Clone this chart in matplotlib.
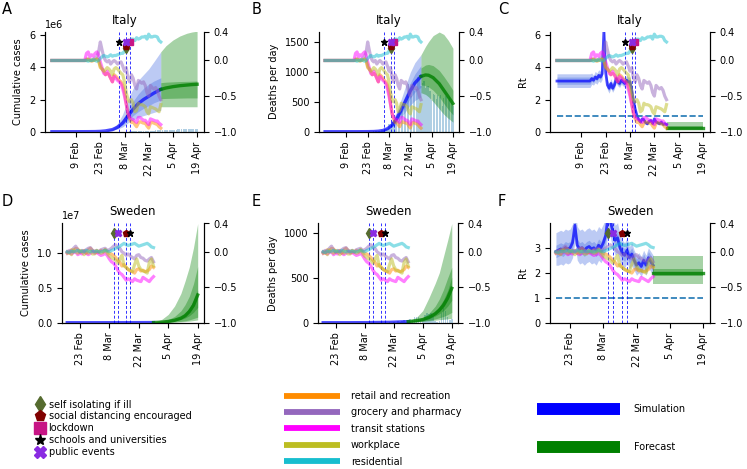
import matplotlib
matplotlib.use("Agg")
import matplotlib.pyplot as plt
from matplotlib.lines import Line2D
import numpy as np
import pandas as pd

plt.rcParams["font.family"] = "DejaVu Sans"
plt.rcParams["font.size"] = 7
plt.rcParams["axes.linewidth"] = 0.8


def days(start, n):
    return pd.date_range(start, periods=n, freq="D")


# ---------------- interventions ----------------
measure_names = ["self isolating if ill", "social distancing encouraged", "lockdown",
                 "schools and universities", "public events"]
measure_markers = ["d", "p", "s", "*", "X"]
measure_colors = ["#556b2f", "#800000", "#c71585", "black", "#8a2be2"]

it_measure_dates = ["2020-03-09", "2020-03-09", "2020-03-11", "2020-03-05", "2020-03-09"]
it_measure_level = [0.17, 0.21, 0.26, 0.26, 0.26]
it_vlines = ["2020-03-05", "2020-03-09", "2020-03-11"]

se_measure_dates = ["2020-03-10", "2020-03-16", None, "2020-03-18", "2020-03-12"]
se_measure_level = [0.26, 0.26, 0.26, 0.26, 0.26]
se_vlines = ["2020-03-10", "2020-03-12", "2020-03-16", "2020-03-18"]

# ---------------- mobility ----------------
mob_names = ["retail and recreation", "grocery and pharmacy", "transit stations",
             "workplace", "residential"]
mob_colors = ["darkorange", "tab:purple", "magenta", "tab:olive", "tab:cyan"]

# Italy: 26 Jan, 14 Feb, then daily from 15 Feb
it_retail = [0.0, 0.0, 0.02, 0.01, 0.0, -0.01, 0.0, 0.01, 0.02, 0.0, -0.1, -0.12, -0.15, -0.2, -0.18,
             -0.2, -0.25, -0.3, -0.2, -0.22, -0.25, -0.28, -0.3, -0.35, -0.45, -0.6, -0.75, -0.82,
             -0.87, -0.86, -0.9, -0.93, -0.88, -0.86, -0.87, -0.88, -0.88, -0.92, -0.95, -0.88,
             -0.87, -0.88, -0.89, -0.9, -0.93, -0.95]
it_grocery = [0.0, 0.0, 0.0, 0.02, 0.01, 0.0, 0.02, 0.03, 0.05, 0.12, 0.26, 0.15, 0.05, 0.0, -0.02,
              0.0, -0.05, -0.02, 0.0, -0.02, -0.05, -0.03, -0.02, -0.08, -0.15, -0.1, -0.25, -0.3,
              -0.2, -0.25, -0.35, -0.4, -0.28, -0.3, -0.32, -0.3, -0.35, -0.45, -0.5, -0.35, -0.38,
              -0.4, -0.38, -0.42, -0.5, -0.55]
it_transit = [0.0, 0.0, 0.1, 0.12, 0.05, 0.08, 0.06, 0.1, 0.12, 0.08, -0.02, -0.1, -0.18, -0.2,
              -0.15, -0.2, -0.25, -0.3, -0.22, -0.25, -0.28, -0.3, -0.33, -0.4, -0.5, -0.62, -0.74,
              -0.8, -0.82, -0.83, -0.85, -0.87, -0.8, -0.8, -0.82, -0.84, -0.84, -0.87, -0.9, -0.82,
              -0.83, -0.84, -0.85, -0.85, -0.88, -0.9]
it_work = [0.0, 0.0, 0.0, 0.02, 0.0, 0.01, 0.0, 0.01, 0.02, 0.0, -0.08, -0.12, -0.15, -0.13, -0.1,
           -0.12, -0.15, -0.2, -0.12, -0.1, -0.12, -0.15, -0.18, -0.2, -0.3, -0.45, -0.55, -0.58,
           -0.55, -0.6, -0.72, -0.7, -0.6, -0.62, -0.62, -0.63, -0.65, -0.72, -0.75, -0.65, -0.66,
           -0.67, -0.68, -0.7, -0.72, -0.62]
it_resid = [0.0, 0.0, 0.0, -0.01, 0.0, 0.0, 0.01, 0.0, -0.01, 0.0, 0.03, 0.05, 0.07, 0.06, 0.05,
            0.06, 0.08, 0.06, 0.07, 0.07, 0.08, 0.09, 0.1, 0.1, 0.13, 0.2, 0.25, 0.27, 0.3, 0.3,
            0.28, 0.32, 0.3, 0.31, 0.33, 0.33, 0.34, 0.3, 0.37, 0.33, 0.33, 0.34, 0.34, 0.33, 0.28,
            0.26]

# Sweden: daily from 17 Feb
se_retail = [0.0, -0.02, 0.03, 0.0, 0.05, 0.04, -0.01, 0.0, 0.02, -0.02, 0.03, 0.05, 0.02, 0.0,
             -0.01, 0.0, 0.02, 0.0, 0.03, 0.01, -0.02, -0.03, -0.05, -0.08, -0.12, -0.15, -0.2,
             -0.18, -0.22, -0.25, -0.27, -0.28, -0.3, -0.25, -0.24, -0.27, -0.26, -0.28, -0.27,
             -0.25, -0.2, -0.22]
se_grocery = [0.0, 0.02, 0.01, 0.05, 0.08, 0.03, 0.0, 0.02, 0.01, 0.03, 0.05, 0.06, 0.02, 0.01,
              0.02, 0.0, 0.03, 0.04, 0.05, 0.02, 0.03, 0.05, 0.08, 0.1, 0.06, 0.05, 0.0, -0.02,
              -0.05, -0.03, -0.06, -0.08, -0.1, -0.05, -0.04, -0.08, -0.09, -0.12, -0.13, -0.1,
              -0.08, -0.14]
se_transit = [-0.02, 0.0, -0.03, -0.01, 0.0, -0.04, -0.02, -0.03, 0.0, -0.02, -0.04, -0.02, 0.0,
              -0.02, -0.01, -0.03, -0.05, -0.04, -0.02, -0.05, -0.1, -0.14, -0.16, -0.2, -0.26,
              -0.3, -0.32, -0.36, -0.4, -0.38, -0.4, -0.42, -0.38, -0.4, -0.41, -0.42, -0.36,
              -0.38, -0.4, -0.42, -0.38, -0.35]
se_work = [-0.02, 0.0, -0.04, 0.03, 0.0, -0.02, 0.02, 0.0, -0.04, 0.0, -0.02, 0.01, -0.03, -0.03,
           0.02, 0.0, -0.02, -0.01, 0.03, -0.02, -0.06, -0.08, -0.1, -0.12, -0.16, -0.1, -0.05,
           -0.2, -0.22, -0.25, -0.26, -0.28, -0.18, -0.1, -0.2, -0.25, -0.27, -0.28, -0.3, -0.15,
           -0.1, -0.2]
se_resid = [0.0, -0.01, 0.01, 0.0, 0.01, 0.02, 0.0, 0.01, 0.0, 0.02, 0.01, 0.0, 0.01, 0.0, 0.01,
            0.0, 0.0, 0.01, 0.02, 0.01, 0.0, 0.02, 0.03, 0.05, 0.06, 0.08, 0.1, 0.12, 0.1, 0.09,
            0.1, 0.11, 0.12, 0.1, 0.08, 0.09, 0.1, 0.11, 0.12, 0.1, 0.07, 0.06]

# ---------------- Italy cases (millions) ----------------
it_sim_dates = ["2020-01-26", "2020-02-09", "2020-02-16", "2020-02-20", "2020-02-23", "2020-02-26",
                "2020-03-01", "2020-03-04", "2020-03-07", "2020-03-10", "2020-03-13", "2020-03-16",
                "2020-03-19", "2020-03-22", "2020-03-25", "2020-03-29"]
it_cases = [0, 0, 0.003, 0.008, 0.02, 0.05, 0.13, 0.28, 0.55, 0.98, 1.40, 1.75, 2.00, 2.20, 2.40, 2.63]
it_cases_lo1 = [0, 0, 0.003, 0.007, 0.017, 0.04, 0.10, 0.22, 0.42, 0.72, 1.00, 1.25, 1.45, 1.62, 1.80, 1.97]
it_cases_hi1 = [0, 0, 0.004, 0.01, 0.025, 0.06, 0.16, 0.36, 0.75, 1.35, 1.90, 2.35, 2.70, 2.95, 3.15, 3.35]
it_cases_lo2 = [0, 0, 0.002, 0.006, 0.014, 0.03, 0.08, 0.17, 0.30, 0.55, 0.75, 0.90, 1.00, 1.10, 1.20, 1.33]
it_cases_hi2 = [0, 0, 0.005, 0.012, 0.03, 0.08, 0.22, 0.50, 1.10, 2.00, 2.70, 3.20, 3.55, 3.90, 4.35, 4.97]

it_fc_dates = ["2020-03-29", "2020-04-01", "2020-04-05", "2020-04-09", "2020-04-13", "2020-04-16",
               "2020-04-19"]
it_fc_cases = [2.63, 2.72, 2.80, 2.86, 2.90, 2.93, 2.95]
it_fc_cases_lo1 = [2.05, 2.07, 2.08, 2.09, 2.10, 2.10, 2.10]
it_fc_cases_hi1 = [3.05, 3.08, 3.10, 3.12, 3.13, 3.14, 3.15]
it_fc_cases_lo2 = [1.55, 1.55, 1.55, 1.55, 1.55, 1.55, 1.55]
it_fc_cases_hi2 = [4.97, 5.35, 5.70, 5.95, 6.12, 6.20, 6.25]

# observed, daily from 21 Feb
it_obs_cum = [20, 62, 155, 229, 322, 453, 655, 888, 1128, 1694, 2036, 2502, 3089, 3858, 4636, 5883,
              7375, 9172, 10149, 12462, 15113, 17660, 21157, 24747, 27980, 31506, 35713, 41035,
              47021, 53578, 59138, 63927, 69176, 74386, 80589, 86498, 92472, 97689, 101739, 105792,
              110574, 115242, 119827, 124632, 128948, 132547, 135586, 139422, 143626, 147577,
              152271, 156363, 159516, 162488, 165155, 168941, 172434, 175925, 178972]
it_obs_deaths = [1, 1, 1, 4, 3, 2, 5, 4, 8, 5, 18, 27, 28, 41, 49, 36, 133, 97, 168, 196, 189, 250,
                 175, 368, 349, 345, 475, 427, 627, 793, 651, 601, 743, 683, 712, 919, 889, 756,
                 812, 837, 727, 760, 766, 681, 525, 636, 604, 542, 610, 570, 619, 431, 566, 602,
                 578, 525, 575, 482, 433]

# ---------------- Italy deaths per day ----------------
it_dsim_dates = ["2020-01-26", "2020-02-16", "2020-02-23", "2020-02-27", "2020-03-01", "2020-03-04",
                 "2020-03-07", "2020-03-10", "2020-03-13", "2020-03-16", "2020-03-19", "2020-03-22",
                 "2020-03-25", "2020-03-29"]
it_deaths = [0, 0, 1, 3, 8, 20, 50, 110, 215, 360, 520, 680, 810, 920]
it_deaths_lo1 = [0, 0, 1, 2, 6, 16, 40, 90, 175, 295, 430, 560, 660, 740]
it_deaths_hi1 = [0, 0, 1, 4, 10, 25, 62, 135, 260, 430, 620, 810, 960, 1100]
it_deaths_lo2 = [0, 0, 0, 2, 5, 13, 33, 72, 140, 235, 340, 440, 520, 580]
it_deaths_hi2 = [0, 0, 2, 5, 13, 33, 80, 175, 330, 540, 770, 990, 1150, 1280]

it_fcd_dates = ["2020-03-29", "2020-04-01", "2020-04-03", "2020-04-06", "2020-04-10", "2020-04-13",
                "2020-04-16", "2020-04-19"]
it_fc_deaths = [920, 945, 940, 900, 800, 690, 580, 470]
it_fc_deaths_lo1 = [780, 770, 745, 690, 580, 470, 370, 280]
it_fc_deaths_hi1 = [1060, 1110, 1120, 1100, 1020, 920, 810, 690]
it_fc_deaths_lo2 = [650, 620, 580, 500, 380, 290, 220, 160]
it_fc_deaths_hi2 = [1280, 1420, 1500, 1600, 1660, 1620, 1520, 1390]

# ---------------- Italy Rt: 26 Jan, then daily from 14 Feb ----------------
it_rt = [3.15, 3.15, 3.3, 3.2, 3.4, 3.3, 3.5, 3.4, 3.6, 6.3, 3.7, 2.9, 2.7, 3.0, 2.7, 2.9, 3.3,
         3.1, 3.0, 3.2, 3.1, 3.0, 3.2, 3.1, 3.1, 2.6, 1.9, 1.4, 1.0, 0.75, 0.6, 0.8, 0.75, 0.55,
         0.5, 0.65, 0.7, 0.5, 0.8, 0.6, 0.55, 0.5, 0.6, 0.45, 0.5, 0.45]
it_rt_lo1 = [2.95, 2.95, 3.15, 3.05, 3.25, 3.15, 3.35, 3.25, 3.45, 6.1, 3.55, 2.75, 2.55, 2.85,
             2.55, 2.75, 3.15, 2.95, 2.85, 3.05, 2.95, 2.85, 3.05, 2.95, 2.95, 2.5, 1.82, 1.35,
             0.95, 0.7, 0.55, 0.73, 0.68, 0.5, 0.45, 0.6, 0.64, 0.45, 0.73, 0.55, 0.5, 0.45, 0.55,
             0.4, 0.45, 0.4]
it_rt_hi1 = [3.4, 3.4, 3.45, 3.35, 3.55, 3.45, 3.65, 3.55, 3.75, 6.5, 3.85, 3.05, 2.85, 3.15, 2.85,
             3.05, 3.45, 3.25, 3.15, 3.35, 3.25, 3.15, 3.35, 3.25, 3.25, 2.7, 1.98, 1.45, 1.05,
             0.8, 0.65, 0.87, 0.82, 0.6, 0.55, 0.7, 0.76, 0.55, 0.87, 0.65, 0.6, 0.55, 0.65, 0.5,
             0.55, 0.5]
it_rt_lo2 = [2.75, 2.75, 2.95, 2.9, 3.05, 2.95, 3.15, 3.05, 3.25, 5.8, 3.35, 2.6, 2.4, 2.7, 2.45,
             2.65, 3.0, 2.85, 2.75, 2.95, 2.85, 2.75, 2.95, 2.85, 2.85, 2.4, 1.75, 1.3, 0.9, 0.65,
             0.5, 0.68, 0.63, 0.45, 0.4, 0.55, 0.58, 0.4, 0.68, 0.5, 0.45, 0.4, 0.5, 0.35, 0.4,
             0.35]
it_rt_hi2 = [3.6, 3.6, 3.65, 3.5, 3.75, 3.65, 3.85, 3.75, 3.95, 6.8, 4.05, 3.2, 3.0, 3.3, 3.0, 3.2,
             3.6, 3.4, 3.3, 3.5, 3.4, 3.3, 3.5, 3.4, 3.4, 2.85, 2.1, 1.55, 1.1, 0.85, 0.7, 0.9,
             0.85, 0.65, 0.6, 0.75, 0.8, 0.6, 0.9, 0.7, 0.65, 0.6, 0.7, 0.55, 0.6, 0.55]

it_fcr_dates = ["2020-03-29", "2020-04-19"]
it_fc_rt = [0.25, 0.25]
it_fc_rt_lo1 = [0.15, 0.15]
it_fc_rt_hi1 = [0.38, 0.38]
it_fc_rt_lo2 = [0.1, 0.1]
it_fc_rt_hi2 = [0.6, 0.6]

# ---------------- Sweden ----------------
se_sim_dates = ["2020-02-17", "2020-03-01", "2020-03-10", "2020-03-20", "2020-03-29"]
se_cases = [0.0, 0.00005, 0.0003, 0.001, 0.002]      # x 1e7
se_deaths = [0, 0, 1, 4, 12]

se_fc_dates = ["2020-03-29", "2020-04-02", "2020-04-05", "2020-04-08", "2020-04-11", "2020-04-13",
               "2020-04-15", "2020-04-17", "2020-04-19"]
se_fc_cases = [0.002, 0.008, 0.018, 0.035, 0.065, 0.1, 0.16, 0.25, 0.40]
se_fc_cases_lo1 = [0.0015, 0.006, 0.013, 0.025, 0.045, 0.068, 0.1, 0.15, 0.22]
se_fc_cases_hi1 = [0.0025, 0.011, 0.024, 0.047, 0.088, 0.135, 0.21, 0.32, 0.47]
se_fc_cases_lo2 = [0.001, 0.003, 0.007, 0.012, 0.02, 0.028, 0.04, 0.06, 0.08]
se_fc_cases_hi2 = [0.004, 0.02, 0.045, 0.09, 0.17, 0.26, 0.38, 0.56, 0.81]
se_fc_cases_lo3 = [0.0, 0.002, 0.004, 0.007, 0.012, 0.016, 0.022, 0.03, 0.04]
se_fc_cases_hi3 = [0.005, 0.05, 0.12, 0.24, 0.42, 0.6, 0.8, 1.08, 1.43]

se_fc_deaths = [12, 22, 35, 60, 100, 140, 195, 275, 385]
se_fc_deaths_lo1 = [11, 18, 28, 46, 74, 100, 135, 185, 250]
se_fc_deaths_hi1 = [13, 26, 43, 75, 128, 182, 255, 360, 510]
se_fc_deaths_lo2 = [9, 13, 19, 28, 42, 55, 70, 90, 115]
se_fc_deaths_hi2 = [15, 32, 58, 105, 185, 265, 370, 500, 620]
se_fc_deaths_lo3 = [8, 10, 14, 20, 28, 33, 38, 43, 48]
se_fc_deaths_hi3 = [18, 60, 135, 280, 440, 560, 740, 920, 1110]

# observed deaths, daily from 11 Mar
se_obs_deaths = [1, 0, 0, 1, 0, 2, 2, 3, 0, 5, 2, 7, 1, 15, 8, 15, 26, 13, 5, 36, 34, 59, 69, 63,
                 28, 21, 85, 114, 96, 106, 77, 17, 12, 20, 114, 170, 130, 67, 30, 40]

# Rt, daily from 17 Feb
se_rt = [2.85, 2.9, 2.95, 2.9, 3.0, 2.95, 3.0, 3.2, 3.9, 3.1, 2.95, 3.0, 2.9, 3.0, 3.05, 2.95, 3.0,
         2.9, 3.1, 3.0, 3.2, 3.5, 4.3, 4.1, 3.6, 3.3, 3.4, 3.0, 2.8, 2.7, 2.9, 2.6, 2.75, 2.5, 2.3,
         2.4, 2.25, 2.5, 2.3, 2.6, 2.45, 2.3]
se_rt_lo1 = [2.6, 2.65, 2.7, 2.65, 2.75, 2.7, 2.75, 2.95, 3.6, 2.85, 2.7, 2.75, 2.65, 2.75, 2.8,
             2.7, 2.75, 2.65, 2.85, 2.75, 2.95, 3.25, 4.0, 3.8, 3.35, 3.05, 3.15, 2.75, 2.55, 2.45,
             2.65, 2.35, 2.5, 2.25, 2.05, 2.15, 2.0, 2.25, 2.05, 2.35, 2.2, 2.05]
se_rt_hi1 = [3.1, 3.15, 3.2, 3.15, 3.25, 3.2, 3.25, 3.45, 4.2, 3.35, 3.2, 3.25, 3.15, 3.25, 3.3,
             3.2, 3.25, 3.15, 3.35, 3.25, 3.45, 3.75, 4.6, 4.4, 3.85, 3.55, 3.65, 3.25, 3.05, 2.95,
             3.15, 2.85, 3.0, 2.75, 2.55, 2.65, 2.5, 2.75, 2.55, 2.85, 2.7, 2.55]
se_rt_lo2 = [2.3, 2.3, 2.35, 2.3, 2.4, 2.35, 2.4, 2.6, 3.2, 2.5, 2.35, 2.4, 2.3, 2.4, 2.45, 2.35,
             2.4, 2.3, 2.5, 2.4, 2.6, 2.9, 3.6, 3.4, 2.95, 2.7, 2.8, 2.45, 2.3, 2.2, 2.4, 2.15, 2.3,
             2.1, 1.9, 2.0, 1.85, 2.1, 1.9, 2.2, 2.05, 1.9]
se_rt_hi2 = [3.6, 3.65, 3.7, 3.65, 3.75, 3.7, 3.75, 3.95, 4.6, 3.85, 3.7, 3.75, 3.65, 3.75, 3.8,
             3.7, 3.75, 3.65, 3.85, 3.75, 3.95, 4.2, 5.0, 4.8, 4.25, 3.9, 4.0, 3.55, 3.3, 3.2, 3.4,
             3.05, 3.2, 2.9, 2.7, 2.8, 2.65, 2.9, 2.7, 3.0, 2.85, 2.7]

se_fcr_dates = ["2020-03-29", "2020-04-19"]
se_fc_rt = [2.0, 2.0]
se_fc_rt_lo1 = [1.85, 1.85]
se_fc_rt_hi1 = [2.15, 2.15]
se_fc_rt_lo2 = [1.55, 1.55]
se_fc_rt_hi2 = [2.65, 2.65]

it_ticks = ["2020-02-09", "2020-02-23", "2020-03-08", "2020-03-22", "2020-04-05", "2020-04-19"]
it_ticklabels = ["9 Feb", "23 Feb", "8 Mar", "22 Mar", "5 Apr", "19 Apr"]
se_ticks = ["2020-02-23", "2020-03-08", "2020-03-22", "2020-04-05", "2020-04-19"]
se_ticklabels = ["23 Feb", "8 Mar", "22 Mar", "5 Apr", "19 Apr"]

# ---------------- dates ----------------
it_mob_dates = [pd.DatetimeIndex(["2020-01-26", "2020-02-14"]).append(days("2020-02-15", len(v) - 2))
                for v in [it_retail, it_grocery, it_transit, it_work, it_resid]]
se_mob_dates = [days("2020-02-17", len(v)) for v in [se_retail, se_grocery, se_transit, se_work, se_resid]]
it_rt_dates = pd.DatetimeIndex(["2020-01-26"]).append(days("2020-02-14", len(it_rt) - 1))
se_rt_dates = days("2020-02-17", len(se_rt))


# ---------------- drawing helpers ----------------
def bands(ax, dates, pairs, color, scale=1.0):
    d = pd.to_datetime(dates)
    for lo, hi in pairs:
        ax.fill_between(d, np.array(lo) * scale, np.array(hi) * scale, color=color, alpha=0.35, lw=0)


def mobility(ax, mob_dates, mob, m_dates, m_levels, vlines):
    for d in vlines:
        ax.axvline(pd.Timestamp(d), color="blue", ls=(0, (3, 2)), lw=0.7, alpha=0.8, zorder=4)
    ax2 = ax.twinx()
    for dd, vals, col in zip(mob_dates, mob, mob_colors):
        ax2.plot(dd, vals, color=col, lw=2.3, alpha=0.5)
    for d, lev, mk, col in zip(m_dates, m_levels, measure_markers, measure_colors):
        if d is None:
            continue
        ax2.plot([pd.Timestamp(d)], [lev], ls="none", marker=mk, color=col, ms=5, zorder=6)
    ax2.set_ylim(-1.0, 0.4)
    ax2.set_yticks([-1.0, -0.5, 0.0, 0.4])
    ax2.spines["top"].set_visible(False)
    return ax2


def finish(ax, title, ylabel, ticks, labels, xlim, ylim, yticks=None):
    ax.set_title(title, fontsize=8.5, pad=6)
    ax.set_ylabel(ylabel)
    ax.set_xticks(pd.to_datetime(ticks))
    ax.set_xticklabels(labels, rotation=90)
    ax.set_xlim(pd.Timestamp(xlim[0]), pd.Timestamp(xlim[1]))
    ax.set_ylim(*ylim)
    if yticks is not None:
        ax.set_yticks(yticks)
    ax.spines["top"].set_visible(False)


W, H = 747, 469


def box(left, right, top, bottom):
    return [left / W, 1 - bottom / H, (right - left) / W, (bottom - top) / H]


fig = plt.figure(figsize=(7.47, 4.69), dpi=100)
axA = fig.add_axes(box(45, 204, 32, 131.7))
axB = fig.add_axes(box(319, 459, 32, 131.7))
axC = fig.add_axes(box(550, 710, 32, 131.7))
axD = fig.add_axes(box(62, 204, 223.5, 322.7))
axE = fig.add_axes(box(318, 458, 223.5, 322.7))
axF = fig.add_axes(box(550, 710, 223.5, 322.7))

it_xlim = ("2020-01-22", "2020-04-23")
se_xlim = ("2020-02-14 12:00", "2020-04-22")
it_mob = [it_retail, it_grocery, it_transit, it_work, it_resid]
se_mob = [se_retail, se_grocery, se_transit, se_work, se_resid]

# A: Italy cumulative cases
axA.bar(days("2020-02-21", len(it_obs_cum)), it_obs_cum, width=0.8, color="C0", alpha=0.35, lw=0)
bands(axA, it_sim_dates, [(it_cases_lo2, it_cases_hi2), (it_cases_lo1, it_cases_hi1)], "royalblue", 1e6)
axA.plot(pd.to_datetime(it_sim_dates), np.array(it_cases) * 1e6, color="blue", lw=2.4, alpha=0.7)
bands(axA, it_fc_dates, [(it_fc_cases_lo2, it_fc_cases_hi2), (it_fc_cases_lo1, it_fc_cases_hi1)], "green", 1e6)
axA.plot(pd.to_datetime(it_fc_dates), np.array(it_fc_cases) * 1e6, color="green", lw=2.4, alpha=0.8)
finish(axA, "Italy", "Cumulative cases", it_ticks, it_ticklabels, it_xlim, (0, 6.2e6), [0, 2e6, 4e6, 6e6])
mobility(axA, it_mob_dates, it_mob, it_measure_dates, it_measure_level, it_vlines)

# B: Italy deaths per day
axB.bar(days("2020-02-21", len(it_obs_deaths)), it_obs_deaths, width=0.8, color="C0", alpha=0.35, lw=0)
bands(axB, it_dsim_dates, [(it_deaths_lo2, it_deaths_hi2), (it_deaths_lo1, it_deaths_hi1)], "royalblue")
axB.plot(pd.to_datetime(it_dsim_dates), it_deaths, color="blue", lw=2.4, alpha=0.7)
bands(axB, it_fcd_dates, [(it_fc_deaths_lo2, it_fc_deaths_hi2), (it_fc_deaths_lo1, it_fc_deaths_hi1)], "green")
axB.plot(pd.to_datetime(it_fcd_dates), it_fc_deaths, color="green", lw=2.4, alpha=0.8)
finish(axB, "Italy", "Deaths per day", it_ticks, it_ticklabels, it_xlim, (0, 1660), [0, 500, 1000, 1500])
mobility(axB, it_mob_dates, it_mob, it_measure_dates, it_measure_level, it_vlines)

# C: Italy Rt
bands(axC, it_rt_dates, [(it_rt_lo2, it_rt_hi2), (it_rt_lo1, it_rt_hi1)], "royalblue")
axC.plot(it_rt_dates, it_rt, color="blue", lw=2.0, alpha=0.7)
bands(axC, it_fcr_dates, [(it_fc_rt_lo2, it_fc_rt_hi2), (it_fc_rt_lo1, it_fc_rt_hi1)], "green")
axC.plot(pd.to_datetime(it_fcr_dates), it_fc_rt, color="green", lw=2.4, alpha=0.8)
axC.hlines(1, it_rt_dates[0], pd.Timestamp(it_fcr_dates[-1]), color="tab:blue", ls="--", lw=1.2)
finish(axC, "Italy", "Rt", it_ticks, it_ticklabels, it_xlim, (0, 6.2), [0, 2, 4, 6])
mobility(axC, it_mob_dates, it_mob, it_measure_dates, it_measure_level, it_vlines)

# D: Sweden cumulative cases
axD.plot(pd.to_datetime(se_sim_dates), np.array(se_cases) * 1e7, color="blue", lw=2.4, alpha=0.7)
bands(axD, se_fc_dates, [(se_fc_cases_lo3, se_fc_cases_hi3), (se_fc_cases_lo2, se_fc_cases_hi2),
                         (se_fc_cases_lo1, se_fc_cases_hi1)], "green", 1e7)
axD.plot(pd.to_datetime(se_fc_dates), np.array(se_fc_cases) * 1e7, color="green", lw=2.4, alpha=0.8)
finish(axD, "Sweden", "Cumulative cases", se_ticks, se_ticklabels, se_xlim, (0, 1.43e7), [0, 0.5e7, 1.0e7])
mobility(axD, se_mob_dates, se_mob, se_measure_dates, se_measure_level, se_vlines)

# E: Sweden deaths per day
axE.bar(days("2020-03-11", len(se_obs_deaths)), se_obs_deaths, width=0.8, color="C0", alpha=0.35, lw=0)
axE.plot(pd.to_datetime(se_sim_dates), se_deaths, color="blue", lw=2.4, alpha=0.7)
bands(axE, se_fc_dates, [(se_fc_deaths_lo3, se_fc_deaths_hi3), (se_fc_deaths_lo2, se_fc_deaths_hi2),
                         (se_fc_deaths_lo1, se_fc_deaths_hi1)], "green")
axE.plot(pd.to_datetime(se_fc_dates), se_fc_deaths, color="green", lw=2.4, alpha=0.8)
finish(axE, "Sweden", "Deaths per day", se_ticks, se_ticklabels, se_xlim, (0, 1110), [0, 500, 1000])
mobility(axE, se_mob_dates, se_mob, se_measure_dates, se_measure_level, se_vlines)

# F: Sweden Rt
bands(axF, se_rt_dates, [(se_rt_lo2, se_rt_hi2), (se_rt_lo1, se_rt_hi1)], "royalblue")
axF.plot(se_rt_dates, se_rt, color="blue", lw=2.0, alpha=0.7)
bands(axF, se_fcr_dates, [(se_fc_rt_lo2, se_fc_rt_hi2), (se_fc_rt_lo1, se_fc_rt_hi1)], "green")
axF.plot(pd.to_datetime(se_fcr_dates), se_fc_rt, color="green", lw=2.4, alpha=0.8)
axF.hlines(1, se_rt_dates[0], pd.Timestamp(se_fcr_dates[-1]), color="tab:blue", ls="--", lw=1.2)
finish(axF, "Sweden", "Rt", se_ticks, se_ticklabels, se_xlim, (0, 3.97), [0, 1, 2, 3])
mobility(axF, se_mob_dates, se_mob, se_measure_dates, se_measure_level, se_vlines)

# panel letters
for letter, x, y in [("A", 2, 2), ("B", 252, 2), ("C", 498, 2), ("D", 2, 194), ("E", 252, 194), ("F", 498, 194)]:
    fig.text(x / W, 1 - y / H, letter, fontsize=10.5, va="top", ha="left")

# legends
h1 = [Line2D([], [], ls="none", marker=m, color=c, ms=8) for m, c in zip(measure_markers, measure_colors)]
fig.legend(h1, measure_names, loc="upper left", bbox_to_anchor=(35 / W, 1 - 399.5 / H), frameon=False,
           fontsize=7, labelspacing=0.2, handlelength=1.0, handletextpad=0.4, borderpad=0, borderaxespad=0)
h2 = [Line2D([], [], color=c, lw=4.2, solid_capstyle="butt") for c in mob_colors]
fig.legend(h2, mob_names, loc="upper left", bbox_to_anchor=(284 / W, 1 - 391 / H), frameon=False,
           fontsize=7, labelspacing=0.66, handlelength=5.8, handletextpad=1.1, borderpad=0, borderaxespad=0)
h3 = [Line2D([], [], color="blue", lw=8.6, solid_capstyle="butt"),
      Line2D([], [], color="green", lw=8.6, solid_capstyle="butt")]
fig.legend(h3, ["Simulation", "Forecast"], loc="upper left", bbox_to_anchor=(537 / W, 1 - 404 / H),
           frameon=False, fontsize=7, labelspacing=2.9, handlelength=8.5, handletextpad=1.45,
           borderpad=0, borderaxespad=0)

fig.savefig("out.png", dpi=100)
